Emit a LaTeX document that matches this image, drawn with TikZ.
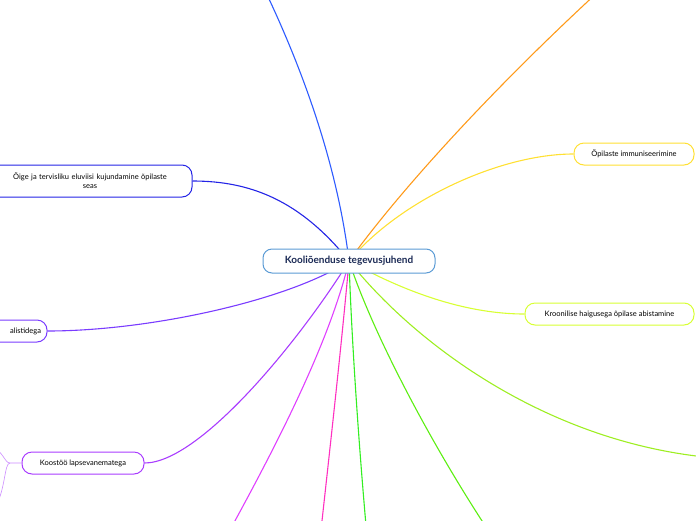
\documentclass[tikz,border=0pt]{standalone}
\usepackage{fontspec}
\setmainfont{Lato}
\usetikzlibrary{backgrounds}
\definecolor{rootline}{HTML}{5B9BD5}
\definecolor{rootink}{HTML}{1B2A55}
\definecolor{cblue}{HTML}{2D5BFF}
\definecolor{cindigo}{HTML}{2424E6}
\definecolor{cviolet}{HTML}{7A3CFF}
\definecolor{cpurple}{HTML}{A93CFF}
\definecolor{cchild}{HTML}{CC8CFF}
\definecolor{cmagenta}{HTML}{E040FF}
\definecolor{cpink}{HTML}{FF30C0}
\definecolor{cgreenA}{HTML}{33EE22}
\definecolor{cgreenB}{HTML}{5CEE11}
\definecolor{cgreenC}{HTML}{9EEE22}
\definecolor{clime}{HTML}{D8FF33}
\definecolor{cyellow}{HTML}{FFE033}
\definecolor{corange}{HTML}{FF9A1A}

\begin{document}
\begin{tikzpicture}[x=1pt,y=-1pt,
  root/.style={draw=rootline, line width=1pt, rounded corners=9pt, fill=white,
    text=rootink, font=\fontsize{10}{12}\selectfont\bfseries,
    minimum width=172pt, minimum height=24pt},
  leaf/.style={draw=#1, line width=1pt, rounded corners=10pt, fill=white,
    font=\fontsize{7.5}{9}\selectfont, minimum height=22pt, inner xsep=6pt},
  branch/.style={draw=#1, line width=1.1pt},
  twig/.style={draw=#1, line width=0.6pt}]
  \useasboundingbox (0,0) rectangle (696,520);
  \clip (0,0) rectangle (696,520);

  % Central topic
  \node[root] (root) at (349,261) {Kooliõenduse tegevusjuhend};

  % Main topics
  \node[leaf=cyellow, minimum width=120pt] (immun) at (634,154) {Õpilaste immuniseerimine};
  \node[leaf=clime, minimum width=169pt] (kroon) at (609.5,314) {Kroonilise haigusega õpilase abistamine};
  \node[leaf=cindigo, minimum width=204pt, minimum height=32pt, text width=190pt, align=center]
    (eluviis) at (90,181) {Õige ja tervisliku eluviisi kujundamine õpilaste\\seas};
  \node[leaf=cviolet, minimum width=110pt, text width=98pt, align=right]
    (spets) at (-8,331) {alistidega};
  \node[leaf=cpurple, minimum width=122pt] (parents) at (83,463) {Koostöö lapsevanematega};

  % Topics outside the frame
  \coordinate (topblue) at (255,-30);
  \coordinate (toporange) at (622,-30);
  \coordinate (rightgreen) at (730,459);
  \coordinate (botgreenB) at (500,548);
  \coordinate (botgreenA) at (368,548);
  \coordinate (botpink) at (319,548);
  \coordinate (botmagenta) at (220,548);
  \coordinate (kidup) at (-12,445);
  \coordinate (kiddown) at (-6,510);

  % Connectors
  \begin{scope}[on background layer]
    \draw[branch=cblue] (root.center) .. controls (338,170) and (305,70) .. (topblue);
    \draw[branch=corange] (root.center) .. controls (400,190) and (500,80) .. (toporange);
    \draw[branch=cyellow] (root.center) .. controls (400,200) and (500,154) .. (immun.west);
    \draw[branch=clime] (root.center) .. controls (410,295) and (470,314) .. (kroon.west);
    \draw[branch=cgreenC] (root.center) .. controls (420,350) and (560,450) .. (rightgreen);
    \draw[branch=cgreenB] (root.center) .. controls (375,340) and (440,460) .. (botgreenB);
    \draw[branch=cgreenA] (root.center) .. controls (352,350) and (360,460) .. (botgreenA);
    \draw[branch=cpink] (root.center) .. controls (342,340) and (332,430) .. (botpink);
    \draw[branch=cmagenta] (root.center) .. controls (330,340) and (280,440) .. (botmagenta);
    \draw[branch=cpurple] (root.center) .. controls (300,340) and (200,463) .. (parents.east);
    \draw[branch=cviolet] (root.center) .. controls (290,300) and (150,331) .. (spets.east);
    \draw[branch=cindigo] (root.center) .. controls (300,200) and (250,181) .. (eluviis.east);
    % Subtopics of the parents node
    \draw[twig=cchild] (parents.west) -- (10,463) .. controls (4,463) and (4,450) .. (kidup);
    \draw[twig=cchild] (10,463) .. controls (4,463) and (6,490) .. (kiddown);
  \end{scope}
\end{tikzpicture}
\end{document}
